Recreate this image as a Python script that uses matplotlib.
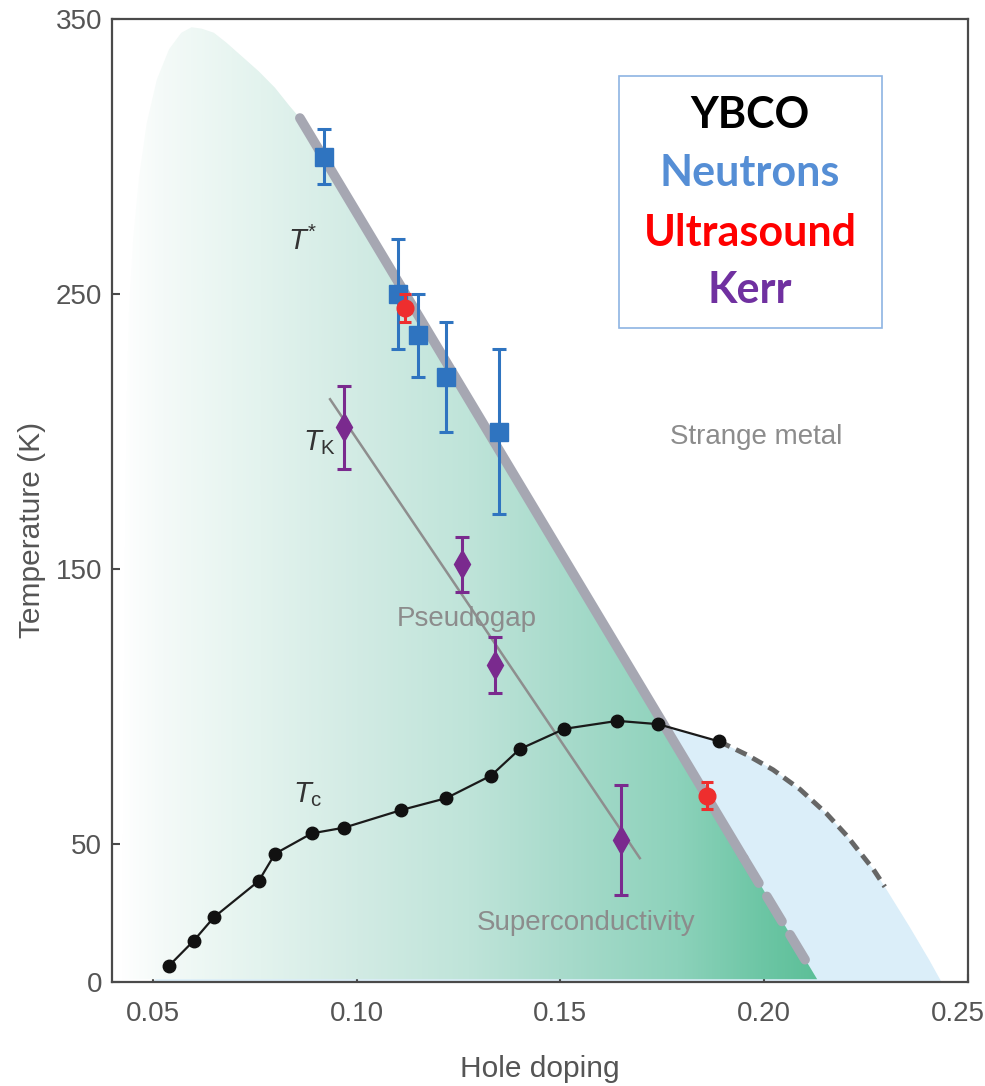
import numpy as np
import matplotlib
matplotlib.use('Agg')
import matplotlib.pyplot as plt
import matplotlib.transforms as mtransforms
from matplotlib.colors import LinearSegmentedColormap
from matplotlib.patches import Polygon, Rectangle

plt.rcParams['font.family'] = ['Liberation Sans', 'DejaVu Sans']
plt.rcParams['mathtext.fontset'] = 'custom'
plt.rcParams['mathtext.rm'] = 'Liberation Sans'
plt.rcParams['mathtext.it'] = 'Liberation Sans:italic'

# superconducting dome (Tc)
tc_x = [0.054, 0.060, 0.065, 0.076, 0.080, 0.089, 0.097, 0.111, 0.122, 0.133, 0.140, 0.151, 0.164, 0.174, 0.189]
tc_T = [5.9, 14.9, 23.5, 36.7, 46.6, 54.0, 56.1, 62.5, 66.8, 75.0, 84.6, 92.0, 94.9, 93.7, 87.4]
# dashed extrapolation of Tc
tc_ext_x = [0.189, 0.1957, 0.2022, 0.2088, 0.2153, 0.2202, 0.2268, 0.2296]
tc_ext_T = [87.4, 82.6, 77.1, 70.0, 61.2, 53.3, 40.9, 34.6]
# rest of the dome outline down to T = 0
dome_tail_x = [0.2357, 0.2405, 0.2435]
dome_tail_T = [20, 8, 0]

# pseudogap region outline (left edge, top, then along T*)
pg_x = [0.0425, 0.0428, 0.0432, 0.0436, 0.0442, 0.0452, 0.0466, 0.0485, 0.051, 0.054,
        0.057, 0.0595, 0.062, 0.065, 0.068, 0.0722, 0.076, 0.080, 0.0835, 0.0861, 0.213]
pg_T = [1, 80, 160, 210, 245, 270, 292, 312, 328, 339,
        345, 347, 346.5, 345, 341.5, 336, 331, 325, 318.5, 314, 1]

# T* line (solid part, then dashed part)
tstar_x = [0.0861, 0.195, 0.2117]
tstar_T = [314, 45, 4]

# T_K line
tk_x = [0.0935, 0.1695]
tk_T = [211.8, 45.0]

# neutrons
n_x = [0.0921, 0.1101, 0.115, 0.1219, 0.135]
n_T = [300, 250, 235, 220, 200]
n_err = [10, 20, 15, 20, 30]

# ultrasound
u_x = [0.112, 0.1859]
u_T = [245, 67.7]
u_err = [5, 5]

# Kerr
k_x = [0.097, 0.1259, 0.134, 0.1649]
k_T = [201.6, 151.9, 115.2, 51.6]
k_err = [15, 10, 10, 20]

fig = plt.figure(figsize=(9.85, 10.86), dpi=100)
ax = fig.add_axes([0.1137, 0.0958, 0.869, 0.8867])

# blue dome
dome_x = [0.05] + tc_x + tc_ext_x[1:] + dome_tail_x
dome_T = [0] + tc_T + tc_ext_T[1:] + dome_tail_T
ax.add_patch(Polygon(np.column_stack([dome_x, dome_T]), closed=True,
                     facecolor='#dbeef9', edgecolor='none', zorder=1))

# green gradient pseudogap region
stops = [(0.0, '#ffffff'), (0.06, '#f4faf8'), (0.2, '#e3f3ee'), (0.34, '#d2ebe4'),
         (0.5, '#bfe4d9'), (0.63, '#a9dbcc'), (0.8, '#8dd2bb'), (0.92, '#6dc6a5'),
         (1.0, '#5cbf98')]
cmap = LinearSegmentedColormap.from_list('pg', stops)
pg_poly = Polygon(np.column_stack([pg_x, pg_T]), closed=True, facecolor='none',
                  edgecolor='none', zorder=2)
ax.add_patch(pg_poly)
grad = np.linspace(0, 1, 512).reshape(1, -1)
im = ax.imshow(grad, extent=[0.042, 0.213, 0, 350], aspect='auto', cmap=cmap,
               origin='lower', zorder=2, interpolation='bilinear')
im.set_clip_path(pg_poly)

# T* line
ax.plot(tstar_x[:2], tstar_T[:2], color='#a6a7b2', lw=7, solid_capstyle='round', zorder=3)
ax.plot(tstar_x[1:], tstar_T[1:], color='#a6a7b2', lw=7, dashes=(3, 1.6),
        dash_capstyle='round', zorder=3)

# T_K line
ax.plot(tk_x, tk_T, color='#8e8e8e', lw=1.8, zorder=3)

# Tc line
ax.plot(tc_ext_x, tc_ext_T, color='#666666', lw=3.5, dashes=(2.4, 1.4), zorder=4)
ax.plot(tc_x, tc_T, color='#1a1a1a', lw=1.6, marker='o', ms=9,
        markerfacecolor='#111111', markeredgecolor='#111111', zorder=4)

# data points
ax.errorbar(n_x, n_T, yerr=n_err, fmt='s', ms=13, color='#2f74c0', ecolor='#2f74c0',
            elinewidth=2.2, capsize=5, capthick=2.2, zorder=6)
ax.errorbar(u_x, u_T, yerr=u_err, fmt='o', ms=12, color='#ee2e2e', ecolor='#ee2e2e',
            elinewidth=2.2, capsize=4, capthick=2.2, zorder=7)
ax.errorbar(k_x, k_T, yerr=k_err, fmt='d', ms=14, color='#7a2a8e', ecolor='#7a2a8e',
            elinewidth=2.2, capsize=5, capthick=2.2, zorder=6)

# labels on the chart
ax.text(0.0832, 269, r'$T^{*}$', fontsize=21, color='#333333', va='center', ha='left')
ax.text(0.0869, 196, r'$T_{\rm K}$', fontsize=21, color='#333333', va='center', ha='left')
ax.text(0.0843, 68, r'$T_{\rm c}$', fontsize=21, color='#333333', va='center', ha='left')
ax.text(0.198, 198, 'Strange metal', fontsize=20, color='#8c8c8c', ha='center', va='center')
ax.text(0.127, 132, 'Pseudogap', fontsize=20, color='#8c8c8c', ha='center', va='center')
ax.text(0.1562, 21.5, 'Superconductivity', fontsize=20, color='#8c8c8c', ha='center', va='center')

# legend box
ax.add_patch(Rectangle((0.1644, 237.8), 0.0645, 91.6, facecolor='white',
                       edgecolor='#8eb4e3', lw=1.2, zorder=8))
leg_names = ['YBCO', 'Neutrons', 'Ultrasound', 'Kerr']
leg_colors = ['#000000', '#558ed5', '#ff0000', '#7030a0']
leg_T = [315.2, 294.0, 272.2, 251.5]
for name, c, t in zip(leg_names, leg_colors, leg_T):
    ax.text(0.1965, t, name, fontsize=31, fontweight='bold', color=c,
            family=['Lato', 'DejaVu Sans'], ha='center', va='center', zorder=9)

ax.set_xlim(0.04, 0.25)
ax.set_ylim(0, 350)
ax.set_xticks([0.05, 0.10, 0.15, 0.20, 0.25])
ax.set_xticklabels(['0.05', '0.10', '0.15', '0.20', '0.25'])
ax.set_yticks([0, 50, 150, 250, 350])

for s in ax.spines.values():
    s.set_color('#4a4a4a')
    s.set_linewidth(1.6)
ax.tick_params(direction='in', length=6, width=1.5, color='#4a4a4a',
               labelsize=20, labelcolor='#555555')
ax.tick_params(axis='x', pad=14)
ax.tick_params(axis='y', pad=7)

# last x tick label sits at the figure edge, nudge it inside
last = ax.get_xticklabels()[-1]
last.set_transform(last.get_transform() +
                   mtransforms.ScaledTranslation(-10 / 100, 0, fig.dpi_scale_trans))

ax.text(-0.0935, 0.469, 'Temperature (K)', transform=ax.transAxes, rotation=90,
        fontsize=21.5, color='#555555', ha='center', va='center')
ax.text(0.5, -0.0987, 'Hole doping', transform=ax.transAxes,
        fontsize=21.5, color='#555555', ha='center', va='baseline')

fig.savefig('out.png', dpi=100)
